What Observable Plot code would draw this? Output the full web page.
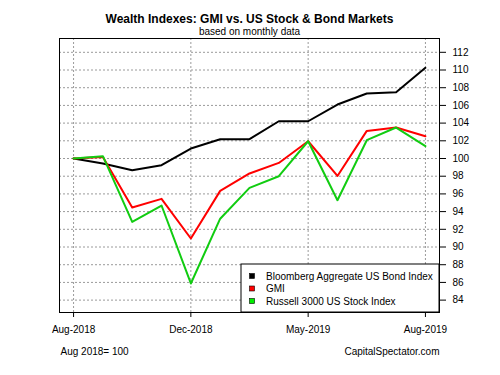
<!DOCTYPE html>
<html>
<head>
<meta charset="utf-8">
<script src="https://cdn.jsdelivr.net/npm/d3@7"></script>
<script src="https://cdn.jsdelivr.net/npm/@observablehq/plot@0.6"></script>
<style>
  html, body { margin: 0; padding: 0; background: #fff; }
  #chart svg { display: block; }
</style>
</head>
<body>
<div id="chart"></div>
<script>
const months = ["2018-08","2018-09","2018-10","2018-11","2018-12","2019-01","2019-02",
                "2019-03","2019-04","2019-05","2019-06","2019-07","2019-08"];
const bond    = [100, 99.44, 98.68, 99.24, 101.13, 102.18, 102.18, 104.21, 104.21, 106.1, 107.34, 107.49, 110.25];
const gmi     = [100, 100.18, 94.46, 95.44, 90.96, 96.34, 98.31, 99.5, 101.95, 98.03, 103.12, 103.5, 102.52];
const russell = [100, 100.26, 92.84, 94.69, 85.88, 93.2, 96.68, 98.0, 101.95, 95.29, 102.07, 103.5, 101.39];

const seriesNames  = ["Bloomberg Aggregate US Bond Index", "GMI", "Russell 3000 US Stock Index"];
const seriesColors = ["#000000", "#ff0000", "#11cc11"];
const legendFills  = ["#000000", "#ff0000", "#00ee00"];

const xTickIdx    = [0, 4, 8, 12];
const xTickLabels = ["Aug-2018", "Dec-2018", "May-2019", "Aug-2019"];
const yTicks      = [84, 86, 88, 90, 92, 94, 96, 98, 100, 102, 104, 106, 108, 110, 112];

const titleText    = "Wealth Indexes: GMI vs. US Stock & Bond Markets";
const subtitleText = "based on monthly data";
const captionLeft  = "Aug 2018= 100";
const captionRight = "CapitalSpectator.com";

const rows = [];
[bond, gmi, russell].forEach((arr, s) => arr.forEach((v, i) => rows.push({series: seriesNames[s], idx: i, month: months[i], value: v})));

const font = "'Liberation Sans', Arial, sans-serif";
const W = 500, H = 375, mT = 38, mR = 61, mB = 63, mL = 59;
const gridStyle = {stroke: "#9a9a9a", strokeWidth: 1, strokeDasharray: "2,2"};

const plot = Plot.plot({
  width: W, height: H,
  marginTop: mT, marginRight: mR, marginBottom: mB, marginLeft: mL,
  style: {fontFamily: font, fontSize: "10px", color: "#000", background: "#fff", overflow: "visible"},
  x: {domain: [-0.48, 12.48]},
  y: {domain: [82.6, 113.56]},
  color: {domain: seriesNames, range: seriesColors},
  marks: [
    Plot.ruleY(yTicks, {y: d => d, ...gridStyle}),
    Plot.ruleX(xTickIdx, {x: d => d, ...gridStyle}),
    Plot.line(rows, {x: "idx", y: "value", z: "series", stroke: "series", strokeWidth: 2, strokeLinejoin: "round"}),
    Plot.frame({stroke: "#000", strokeWidth: 1}),
    Plot.axisY(yTicks, {anchor: "right", tickSize: 6, tickPadding: 7, fontSize: 10, tickFormat: d => String(d), label: null}),
    Plot.axisX(xTickIdx, {anchor: "bottom", tickSize: 5, tickPadding: 8, fontSize: 10, tickFormat: d => xTickLabels[xTickIdx.indexOf(d)], label: null}),
    Plot.text([titleText], {frameAnchor: "top", dy: -24, fontWeight: "bold", fontSize: 12}),
    Plot.text([subtitleText], {frameAnchor: "top", dy: -11, fontSize: 10}),
    Plot.text([captionLeft], {frameAnchor: "bottom-left", textAnchor: "start", dx: 1, dy: 42, fontSize: 10}),
    Plot.text([captionRight], {frameAnchor: "bottom-right", textAnchor: "end", dy: 42, fontSize: 10})
  ]
});

const svg = d3.select(plot);
const fx1 = W - mR, fy1 = H - mB;

// Legend box anchored to the bottom-right corner of the frame
const lw = 198, lh = 48;
const lg = svg.append("g").attr("transform", `translate(${fx1 - lw},${fy1 - lh})`)
  .attr("text-anchor", "start")
  .style("font-family", font).style("font-size", "10px");
lg.append("rect").attr("width", lw).attr("height", lh).attr("fill", "#fff").attr("stroke", "#000").attr("stroke-width", 1);
seriesNames.forEach((name, i) => {
  const cy = 12 + i * 12.5;
  lg.append("rect").attr("x", 8.5).attr("y", cy - 2.5).attr("width", 5).attr("height", 5)
    .attr("fill", legendFills[i]).attr("stroke", "#000").attr("stroke-width", 0.6);
  lg.append("text").attr("x", 25).attr("y", cy).attr("dy", "0.35em")
    .attr("text-anchor", "start").attr("fill", "#000").text(name);
});

document.getElementById("chart").appendChild(plot);
</script>
</body>
</html>
